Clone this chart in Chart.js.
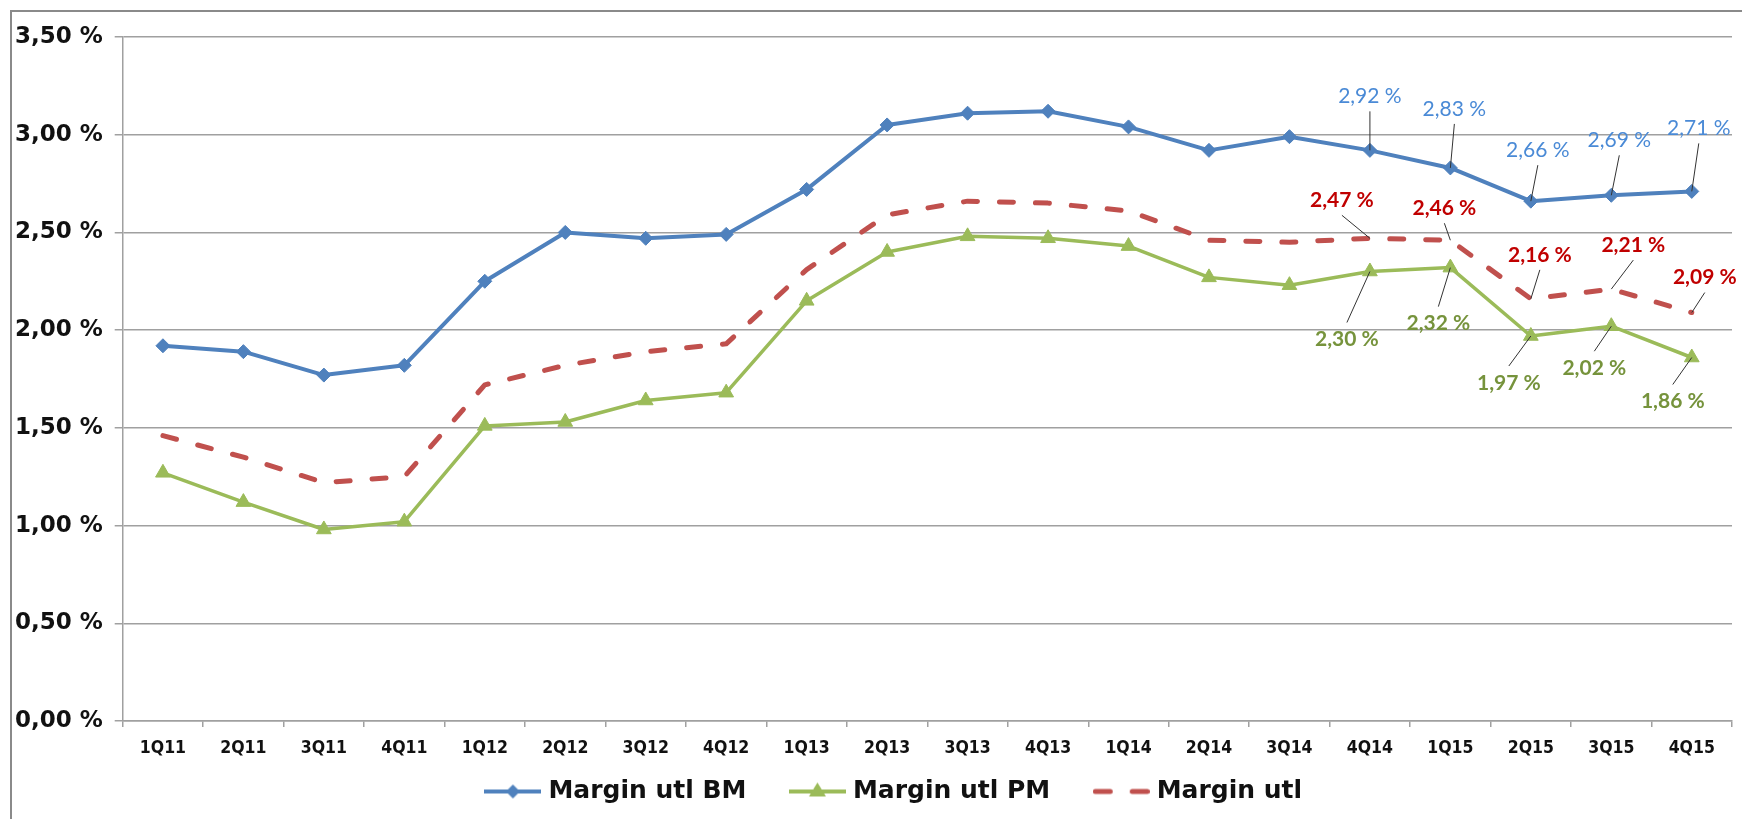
<!DOCTYPE html>
<html>
<head>
<meta charset="utf-8">
<script src="https://cdn.jsdelivr.net/npm/chart.js@4.4.1/dist/chart.umd.min.js"></script>
<style>
html,body{margin:0;padding:0;background:#ffffff;}
#wrap{width:1742px;height:819px;position:relative;}
canvas{display:block;}
</style>
</head>
<body>
<div id="wrap"><canvas id="c" width="1742" height="819"></canvas></div>
<script>
// ---- data ----
const categories = ['1Q11','2Q11','3Q11','4Q11','1Q12','2Q12','3Q12','4Q12','1Q13','2Q13','3Q13','4Q13','1Q14','2Q14','3Q14','4Q14','1Q15','2Q15','3Q15','4Q15'];
const marginBM  = [1.92, 1.89, 1.77, 1.82, 2.25, 2.50, 2.47, 2.49, 2.72, 3.05, 3.11, 3.12, 3.04, 2.92, 2.99, 2.92, 2.83, 2.66, 2.69, 2.71];
const marginPM  = [1.27, 1.12, 0.98, 1.02, 1.51, 1.53, 1.64, 1.68, 2.15, 2.40, 2.48, 2.47, 2.43, 2.27, 2.23, 2.30, 2.32, 1.97, 2.02, 1.86];
const marginUtl = [1.46, 1.35, 1.22, 1.25, 1.72, 1.82, 1.89, 1.93, 2.31, 2.59, 2.66, 2.65, 2.61, 2.46, 2.45, 2.47, 2.46, 2.16, 2.21, 2.09];
const seriesNames = ['Margin utl BM', 'Margin utl PM', 'Margin utl'];
const labelledIdx = [15, 16, 17, 18, 19];

// ---- styles ----
const BLUE = '#4f81bd', GREEN = '#9bbb59', RED = '#c0504d', GRID = '#a0a0a0';
const fmt = v => v.toFixed(2).replace('.', ',') + ' %';

// label placement (offset of label centre from its point, in px)
const labelSpecs = [
  {ds: 0, color: '#4a8ad6', weight: 'normal', offsets: [[0,-54],[4,-59],[7,-51],[8,-55],[7,-63]]},
  {ds: 2, color: '#c00000', weight: 'bold',   offsets: [[-28,-38],[-6,-32],[9,-44],[22,-44],[13,-35]]},
  {ds: 1, color: '#76933c', weight: 'bold',   offsets: [[-23,68],[-12,56],[-22,47],[-17,42],[-19,44]]}
];

function legendImg(kind) {
  const c = document.createElement('canvas');
  c.width = 57; c.height = 22;
  const g = c.getContext('2d');
  const cy = 11;
  if (kind === 'bm') {
    g.strokeStyle = BLUE; g.lineWidth = 4;
    g.beginPath(); g.moveTo(0, cy); g.lineTo(57, cy); g.stroke();
    g.fillStyle = BLUE;
    g.beginPath(); g.moveTo(28.5 - 7, cy); g.lineTo(28.5, cy - 7); g.lineTo(28.5 + 7, cy); g.lineTo(28.5, cy + 7); g.closePath(); g.fill();
  } else if (kind === 'pm') {
    g.strokeStyle = GREEN; g.lineWidth = 4;
    g.beginPath(); g.moveTo(0, cy); g.lineTo(57, cy); g.stroke();
    g.fillStyle = GREEN;
    g.beginPath(); g.moveTo(28.5, cy - 9); g.lineTo(28.5 + 8.5, cy + 5); g.lineTo(28.5 - 8.5, cy + 5); g.closePath(); g.fill();
  } else {
    g.strokeStyle = RED; g.lineWidth = 5; g.lineCap = 'round';
    g.beginPath(); g.moveTo(2.5, cy); g.lineTo(17.5, cy); g.moveTo(39.5, cy); g.lineTo(54.5, cy); g.stroke();
  }
  return c;
}
const legendImgs = [legendImg('bm'), legendImg('pm'), legendImg('utl')];

const frame = {
  id: 'frame',
  beforeDraw(chart) {
    const ctx = chart.ctx;
    ctx.save();
    ctx.fillStyle = '#ffffff';
    ctx.fillRect(0, 0, chart.width, chart.height);
    ctx.strokeStyle = '#8a8a8a';
    ctx.lineWidth = 2;
    ctx.strokeRect(11, 11, chart.width + 20, chart.height + 20);
    ctx.restore();
  }
};

// place the legend row (library-drawn) under the axis labels
const legendPlacer = {
  id: 'legendPlacer',
  afterUpdate(chart) {
    const lg = chart.legend;
    if (!lg) return;
    lg.left = 60;
    lg.top = 731;
    lg.bottom = 731 + 83;
  }
};

const dataLabels = {
  id: 'dataLabels',
  afterDatasetsDraw(chart) {
    const ctx = chart.ctx;
    ctx.save();
    labelSpecs.forEach(spec => {
      const meta = chart.getDatasetMeta(spec.ds);
      const vals = chart.data.datasets[spec.ds].data;
      labelledIdx.forEach((idx, j) => {
        const pt = meta.data[idx];
        const [dx, dy] = spec.offsets[j];
        const lx = pt.x + dx, ly = pt.y + dy;
        ctx.strokeStyle = '#333333';
        ctx.lineWidth = 1;
        ctx.beginPath();
        ctx.moveTo(lx, ly + (dy < 0 ? 15 : -17));
        ctx.lineTo(pt.x, pt.y);
        ctx.stroke();
        ctx.fillStyle = spec.color;
        ctx.font = spec.weight + ' 21px Lato, "Open Sans", sans-serif';
        ctx.textAlign = 'center';
        ctx.textBaseline = 'middle';
        ctx.fillText(fmt(vals[idx]), lx, ly);
      });
    });
    ctx.restore();
  }
};

new Chart(document.getElementById('c'), {
  type: 'line',
  data: {
    labels: categories,
    datasets: [
      {label: seriesNames[0], data: marginBM, borderColor: BLUE, backgroundColor: BLUE, borderWidth: 4,
       pointStyle: 'rectRot', pointRadius: 7, pointBorderWidth: 1, pointBackgroundColor: BLUE, pointBorderColor: BLUE,
       tension: 0, borderJoinStyle: 'round', order: 1},
      {label: seriesNames[1], data: marginPM, borderColor: GREEN, backgroundColor: GREEN, borderWidth: 3.5,
       pointStyle: 'triangle', pointRadius: 8.5, pointBorderWidth: 1, pointBackgroundColor: GREEN, pointBorderColor: GREEN,
       tension: 0, borderJoinStyle: 'round', order: 2},
      {label: seriesNames[2], data: marginUtl, borderColor: RED, backgroundColor: RED, borderWidth: 5,
       borderDash: [14, 22], borderCapStyle: 'round', borderJoinStyle: 'round', pointRadius: 0, tension: 0, order: 3}
    ]
  },
  options: {
    responsive: false,
    animation: false,
    devicePixelRatio: 1,
    layout: {padding: {left: 0, right: 10, top: 37, bottom: 0}},
    scales: {
      x: {
        offset: true,
        grid: {offset: true, drawOnChartArea: false, drawTicks: true, tickLength: 6, color: GRID, lineWidth: 1.5},
        border: {display: true, color: GRID, width: 1.5},
        ticks: {color: '#111111', padding: 11, maxRotation: 0, autoSkip: false,
                font: {family: '"DejaVu Sans Condensed", "DejaVu Sans", sans-serif', weight: 'bold', size: 17.5}},
        afterFit(scale) { scale.height = 58; }
      },
      y: {
        min: 0, max: 3.5,
        grid: {color: GRID, lineWidth: 1.5, tickLength: 8, drawTicks: true},
        border: {display: true, color: GRID, width: 1.5},
        ticks: {stepSize: 0.5, padding: 12, color: '#111111',
                font: {family: '"DejaVu Sans", Verdana, sans-serif', weight: 'bold', size: 23},
                callback: v => fmt(v)},
        afterFit(scale) { scale.width = 122.7; }
      }
    },
    plugins: {
      tooltip: {enabled: false},
      legend: {
        position: 'bottom',
        align: 'center',
        maxHeight: 40,
        labels: {
          usePointStyle: true,
          pointStyleWidth: 46,
          padding: 48,
          color: '#111111',
          font: {family: '"DejaVu Sans", Verdana, sans-serif', weight: 'bold', size: 25},
          generateLabels(chart) {
            const items = Chart.defaults.plugins.legend.labels.generateLabels(chart);
            items.forEach(it => { it.pointStyle = legendImgs[it.datasetIndex]; it.lineWidth = 0; });
            return items;
          }
        }
      }
    }
  },
  plugins: [frame, legendPlacer, dataLabels]
});
</script>
</body>
</html>
